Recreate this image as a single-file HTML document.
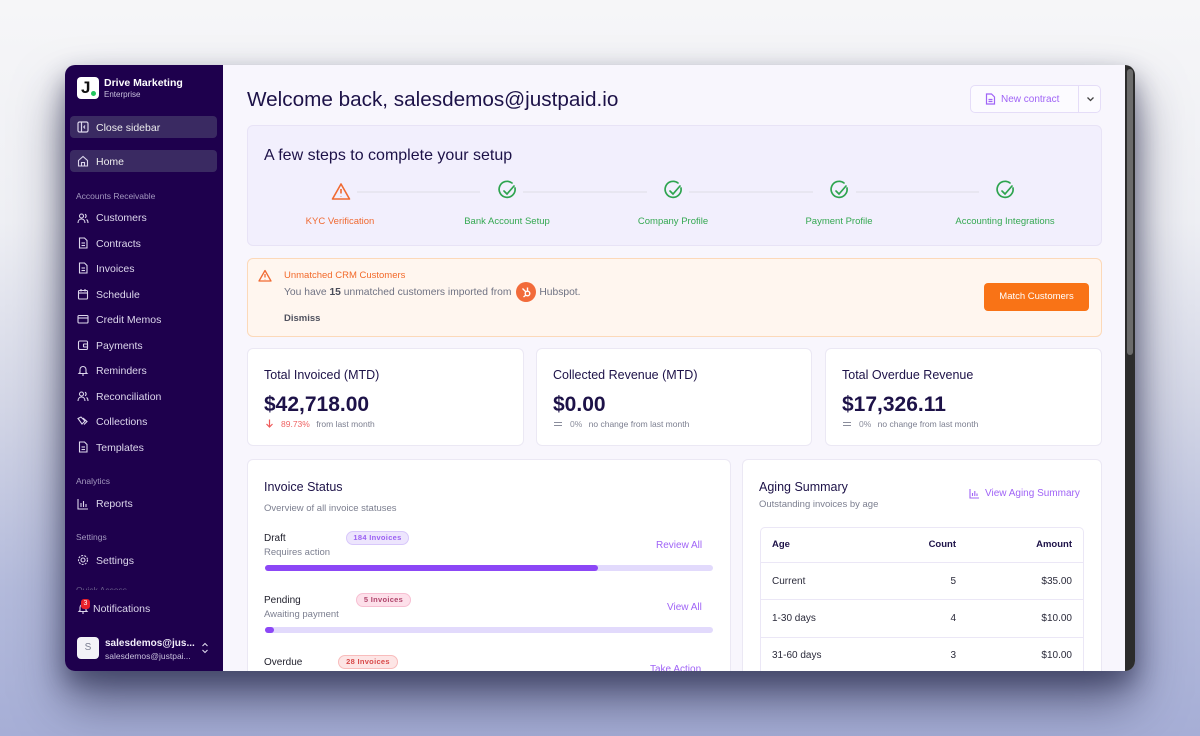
<!DOCTYPE html>
<html><head><meta charset="utf-8">
<style>
*{box-sizing:border-box;margin:0;padding:0}
html,body{width:1200px;height:736px;overflow:hidden}
body{font-family:"Liberation Sans",Arial,sans-serif;position:relative;
background:linear-gradient(180deg,#f6f6f8 0%,#eeeff4 30%,#d3d6e6 55%,#b3badb 80%,#a6aed6 100%);}
.abs{position:absolute}
.win{position:absolute;left:65px;top:65px;width:1070px;height:606px;border-radius:10px;overflow:hidden;background:#f8f6fd;
box-shadow:0 30px 50px rgba(35,37,70,.6),0 12px 24px rgba(35,37,70,.45)}
.side{position:absolute;left:0;top:0;width:158px;height:606px;background:#1e004d}
.side .t{position:absolute;left:31px;font-size:10.5px;color:#ddd7ec;white-space:nowrap}
.side .h{position:absolute;left:11px;font-size:8.5px;color:#a398bf}
.side svg{position:absolute;left:12px}
.main{position:absolute;left:158px;top:0;width:902px;height:606px;background:#f8f6fd}
.card{position:absolute;background:#fff;border:1px solid #ebe8f4;border-radius:6px}
.dk{color:#1d1248}
.gr{color:#7c7f90}
.pur{color:#a064f6}
.badge{position:absolute;height:14px;border-radius:7px;font-size:7.5px;font-weight:bold;line-height:12px;text-align:center;letter-spacing:.3px}
.bar{position:absolute;left:17px;width:448px;height:6px;border-radius:3px;background:#e2dafc}
.bar i{position:absolute;left:0;top:0;height:6px;border-radius:3px;background:#8c47f6}
.sb{position:absolute;left:1060px;top:0;width:10px;height:606px;background:#2c2c2c}
.sb i{position:absolute;left:2px;top:4px;width:6px;height:286px;border-radius:3px;background:#6b6b6b}
td{font-size:10px;color:#2a2a3a}
</style></head><body>
<div class="win">
 <div class="side">
  <div class="abs" style="left:12px;top:12px;width:22px;height:22px;background:#fff;border-radius:4px">
   <span class="abs" style="left:4px;top:1px;font-size:17px;font-weight:bold;color:#111">J</span>
   <span class="abs" style="left:14px;top:14px;width:5px;height:5px;border-radius:50%;background:#22c55e"></span>
  </div>
  <div class="abs" style="left:39px;top:12px;font-size:10.5px;font-weight:bold;color:#fff">Drive Marketing</div>
  <div class="abs" style="left:39px;top:25px;font-size:8px;color:#c9c1dd">Enterprise</div>
  <div class="abs" style="left:5px;top:51px;width:147px;height:22px;border-radius:4px;background:#3a2a62"></div>
  <svg style="top:56px" width="12" height="12" viewBox="0 0 12 12" fill="none" stroke="#ddd7ec" stroke-width="1.2"><rect x="1" y="1" width="10" height="10" rx="1.5"/><line x1="4.5" y1="1" x2="4.5" y2="11"/><path d="M8 4.5L6.8 6 8 7.5"/></svg>
  <div class="t" style="top:57px;color:#eee">Close sidebar</div>
  <div class="abs" style="left:5px;top:85px;width:147px;height:22px;border-radius:4px;background:#3a2a62"></div>
  <svg style="top:90px" width="12" height="12" viewBox="0 0 12 12" fill="none" stroke="#ddd7ec" stroke-width="1.1"><path d="M1.5 5.5L6 1.5l4.5 4V11h-9z"/><path d="M4.5 11V7.5h3V11"/></svg>
  <div class="t" style="top:91px;color:#eee">Home</div>
  <div class="h" style="top:126px">Accounts Receivable</div>
  <svg style="top:147px" width="12" height="12" viewBox="0 0 12 12" fill="none" stroke="#ddd7ec" stroke-width="1.1"><circle cx="4.5" cy="4" r="2"/><path d="M1 11c0-2.5 1.5-4 3.5-4s3.5 1.5 3.5 4"/><path d="M8 2.2a2 2 0 010 3.6M9.5 7.5c1 .6 1.5 2 1.5 3.5"/></svg>
  <div class="t" style="top:147px">Customers</div>
  <svg style="top:172px" width="12" height="12" viewBox="0 0 12 12" fill="none" stroke="#ddd7ec" stroke-width="1.1"><path d="M2.5 1h5l2.5 2.5V11h-7.5z"/><line x1="4.5" y1="6" x2="8" y2="6"/><line x1="4.5" y1="8.5" x2="8" y2="8.5"/></svg>
  <div class="t" style="top:173px">Contracts</div>
  <svg style="top:197px" width="12" height="12" viewBox="0 0 12 12" fill="none" stroke="#ddd7ec" stroke-width="1.1"><path d="M2.5 1h5l2.5 2.5V11h-7.5z"/><line x1="4.5" y1="6" x2="8" y2="6"/><line x1="4.5" y1="8.5" x2="8" y2="8.5"/></svg>
  <div class="t" style="top:198px">Invoices</div>
  <svg style="top:223px" width="12" height="12" viewBox="0 0 12 12" fill="none" stroke="#ddd7ec" stroke-width="1.1"><rect x="1.5" y="2.5" width="9" height="8.5" rx="1"/><line x1="1.5" y1="5" x2="10.5" y2="5"/><line x1="4" y1="1" x2="4" y2="3.5"/><line x1="8" y1="1" x2="8" y2="3.5"/></svg>
  <div class="t" style="top:224px">Schedule</div>
  <svg style="top:248px" width="12" height="12" viewBox="0 0 12 12" fill="none" stroke="#ddd7ec" stroke-width="1.1"><rect x="1" y="2.5" width="10" height="7.5" rx="1"/><line x1="1" y1="5" x2="11" y2="5"/></svg>
  <div class="t" style="top:249px">Credit Memos</div>
  <svg style="top:274px" width="12" height="12" viewBox="0 0 12 12" fill="none" stroke="#ddd7ec" stroke-width="1.1"><rect x="1.5" y="2" width="9" height="8.5" rx="1.2"/><rect x="6.5" y="5" width="4" height="3" rx=".5"/></svg>
  <div class="t" style="top:275px">Payments</div>
  <svg style="top:299px" width="12" height="12" viewBox="0 0 12 12" fill="none" stroke="#ddd7ec" stroke-width="1.1"><path d="M3 8.5V5.5a3 3 0 016 0v3l1 1H2z"/><path d="M5 11h2"/></svg>
  <div class="t" style="top:300px">Reminders</div>
  <svg style="top:325px" width="12" height="12" viewBox="0 0 12 12" fill="none" stroke="#ddd7ec" stroke-width="1.1"><circle cx="4.5" cy="4" r="2"/><path d="M1 11c0-2.5 1.5-4 3.5-4s3.5 1.5 3.5 4"/><path d="M8 2.2a2 2 0 010 3.6M9.5 7.5c1 .6 1.5 2 1.5 3.5"/></svg>
  <div class="t" style="top:326px">Reconciliation</div>
  <svg style="top:350px" width="12" height="12" viewBox="0 0 12 12" fill="none" stroke="#ddd7ec" stroke-width="1.1"><path d="M1 3.5l3-1.5 4 4-3 3z"/><path d="M6 3l4 3.5-3 3"/></svg>
  <div class="t" style="top:351px">Collections</div>
  <svg style="top:376px" width="12" height="12" viewBox="0 0 12 12" fill="none" stroke="#ddd7ec" stroke-width="1.1"><path d="M2.5 1h5l2.5 2.5V11h-7.5z"/><line x1="4.5" y1="6" x2="8" y2="6"/><line x1="4.5" y1="8.5" x2="8" y2="8.5"/></svg>
  <div class="t" style="top:377px">Templates</div>
  <div class="h" style="top:411px">Analytics</div>
  <svg style="top:433px" width="12" height="12" viewBox="0 0 12 12" fill="none" stroke="#ddd7ec" stroke-width="1.1"><path d="M1 1v10h10"/><line x1="4" y1="5" x2="4" y2="9"/><line x1="6.5" y1="3" x2="6.5" y2="9"/><line x1="9" y1="6" x2="9" y2="9"/></svg>
  <div class="t" style="top:433px">Reports</div>
  <div class="h" style="top:467px">Settings</div>
  <svg style="top:489px" width="12" height="12" viewBox="0 0 12 12" fill="none" stroke="#ddd7ec" stroke-width="1.1"><circle cx="6" cy="6" r="2"/><circle cx="6" cy="6" r="4.5" stroke-dasharray="2 1.2"/></svg>
  <div class="t" style="top:490px">Settings</div>
  <div class="h" style="top:520px;height:5px;overflow:hidden;color:#6a5f8a">Quick Access</div>
  <svg style="top:537px" width="12" height="12" viewBox="0 0 12 12" fill="none" stroke="#ddd7ec" stroke-width="1.1"><path d="M3 8.5V5.5a3 3 0 016 0v3l1 1H2z"/><path d="M5 11h2"/></svg>
  <div class="abs" style="left:16px;top:534px;width:9px;height:10px;border-radius:3px;background:#e8202a;color:#fff;font-size:7px;text-align:center;line-height:10px">3</div>
  <div class="t" style="left:28px;top:538px">Notifications</div>
  <div class="abs" style="left:12px;top:572px;width:22px;height:22px;border-radius:4px;background:#f3f2f7;color:#7a7d90;font-size:10px;text-align:center;line-height:22px">S</div>
  <div class="abs" style="left:40px;top:573px;font-size:10px;font-weight:bold;color:#f2eefa">salesdemos@jus...</div>
  <div class="abs" style="left:40px;top:586px;font-size:8.5px;color:#c8c0dc">salesdemos@justpai...</div>
  <svg class="abs" style="left:136px;top:577px" width="8" height="12" viewBox="0 0 8 12" fill="none" stroke="#ddd7ec" stroke-width="1.1"><path d="M1.5 4L4 1.5 6.5 4M1.5 8L4 10.5 6.5 8"/></svg>
 </div>

 <div class="main">
  <div class="abs dk" style="left:24px;top:23px;font-size:20.7px;white-space:nowrap">Welcome back, salesdemos@justpaid.io</div>
  <div class="abs" style="left:747px;top:20px;width:131px;height:28px;border:1px solid #e5ddf8;border-radius:5px;background:#fcfbff"></div>
  <div class="abs" style="left:855px;top:20px;width:1px;height:28px;background:#e5ddf8"></div>
  <svg class="abs" style="left:762px;top:28px" width="11" height="12" viewBox="0 0 11 12" fill="none" stroke="#a064f6" stroke-width="1.2"><path d="M1.5 1h5l3 3v7h-8z"/><line x1="3.5" y1="6.5" x2="7.5" y2="6.5"/><line x1="3.5" y1="8.5" x2="7.5" y2="8.5"/></svg>
  <div class="abs pur" style="left:778px;top:29px;font-size:10px">New contract</div>
  <svg class="abs" style="left:863px;top:31px" width="9" height="6" viewBox="0 0 9 6" fill="none" stroke="#444" stroke-width="1.3"><path d="M1.5 1.5L4.5 4.5 7.5 1.5"/></svg>

  <div class="abs" style="left:24px;top:60px;width:855px;height:121px;background:#f2effd;border:1px solid #e8e3f6;border-radius:6px">
   <div class="abs dk" style="left:16px;top:21px;font-size:16px;white-space:nowrap">A few steps to complete your setup</div>
  </div>
  <svg class="abs" style="left:24px;top:60px" width="855" height="121">
   <g stroke="#e3e1ea" stroke-width="1.2"><line x1="110" y1="67" x2="233" y2="67"/><line x1="276" y1="67" x2="400" y2="67"/><line x1="442" y1="67" x2="566" y2="67"/><line x1="609" y1="67" x2="732" y2="67"/></g>
   <g fill="none" stroke="#f06a32" stroke-width="1.6" stroke-linejoin="round"><path d="M94 59L102.5 74h-17z"/><line x1="94" y1="64" x2="94" y2="68.5"/><line x1="94" y1="71" x2="94" y2="71.4"/></g>
   <g fill="none" stroke="#2ea44f" stroke-width="1.7" stroke-linecap="round">
    <path d="M268 63a8 8 0 11-3-5"/><path d="M257 66l3 3 7-8"/>
    <path d="M434 63a8 8 0 11-3-5"/><path d="M423 66l3 3 7-8"/>
    <path d="M600 63a8 8 0 11-3-5"/><path d="M589 66l3 3 7-8"/>
    <path d="M766 63a8 8 0 11-3-5"/><path d="M755 66l3 3 7-8"/>
   </g>
  </svg>
  <div class="abs" style="left:0;top:151px;width:902px;font-size:9.5px">
   <span class="abs" style="left:117px;width:0;display:flex;justify-content:center;white-space:nowrap;color:#f06a32">KYC Verification</span>
   <span class="abs" style="left:284px;width:0;display:flex;justify-content:center;white-space:nowrap;color:#35a852">Bank Account Setup</span>
   <span class="abs" style="left:450px;width:0;display:flex;justify-content:center;white-space:nowrap;color:#35a852">Company Profile</span>
   <span class="abs" style="left:616px;width:0;display:flex;justify-content:center;white-space:nowrap;color:#35a852">Payment Profile</span>
   <span class="abs" style="left:782px;width:0;display:flex;justify-content:center;white-space:nowrap;color:#35a852">Accounting Integrations</span>
  </div>

  <div class="abs" style="left:24px;top:193px;width:855px;height:79px;background:#fff6ef;border:1px solid #fcd9b9;border-radius:6px"></div>
  <svg class="abs" style="left:35px;top:204px" width="14" height="13" viewBox="0 0 14 13" fill="none" stroke="#f06a32" stroke-width="1.3" stroke-linejoin="round"><path d="M7 1.5L13 12H1z"/><line x1="7" y1="5" x2="7" y2="8.5"/><line x1="7" y1="10" x2="7" y2="10.3"/></svg>
  <div class="abs" style="left:61px;top:205px;font-size:9.5px;color:#f2692a">Unmatched CRM Customers</div>
  <div class="abs" style="left:61px;top:217px;height:20px;display:flex;align-items:center;font-size:10.3px;color:#6f7283;white-space:nowrap">You have&nbsp;<b style="color:#4a4d5a">15</b>&nbsp;unmatched customers imported from&nbsp;
   <span style="display:inline-block;position:relative;width:20px;height:20px;border-radius:50%;background:#f26b3a;margin:0 3px 0 2px">
    <svg class="abs" style="left:0;top:0" width="20" height="20" viewBox="0 0 20 20" fill="none" stroke="#fff" stroke-width="1.4"><circle cx="11.5" cy="11.5" r="2.3"/><path d="M10 10L6.5 6.5M11.5 9.2V5.5M9.8 13.2L7.5 15"/></svg>
   </span>Hubspot.</div>
  <div class="abs" style="left:61px;top:248px;font-size:9.5px;font-weight:bold;color:#50525f">Dismiss</div>
  <div class="abs" style="left:761px;top:218px;width:105px;height:28px;border-radius:4px;background:#f97316;color:#fff;font-size:9.5px;text-align:center;line-height:28px">Match Customers</div>

  <div class="card" style="left:24px;top:283px;width:277px;height:98px"></div>
  <div class="card" style="left:313px;top:283px;width:276px;height:98px"></div>
  <div class="card" style="left:602px;top:283px;width:277px;height:98px"></div>
  <div class="abs dk" style="left:41px;top:303px;font-size:12.5px">Total Invoiced (MTD)</div>
  <div class="abs dk" style="left:41px;top:328px;font-size:21px;font-weight:bold">$42,718.00</div>
  <svg class="abs" style="left:42px;top:354px" width="9" height="9" viewBox="0 0 9 9" fill="none" stroke="#ef5a5a" stroke-width="1.2"><path d="M4.5 0.5v7.5M1.5 5l3 3 3-3"/></svg>
  <div class="abs" style="left:58px;top:354px;font-size:8.5px;color:#ef6464;white-space:nowrap">89.73% <span style="color:#7c7f90;margin-left:4px">from last month</span></div>
  <div class="abs dk" style="left:330px;top:303px;font-size:12.5px">Collected Revenue (MTD)</div>
  <div class="abs dk" style="left:330px;top:328px;font-size:21px;font-weight:bold">$0.00</div>
  <div class="abs" style="left:331px;top:357px;width:8px;height:1.3px;background:#8a8d9c;box-shadow:0 3px 0 #8a8d9c"></div>
  <div class="abs" style="left:347px;top:354px;font-size:8.5px;color:#8a8d9c;white-space:nowrap">0% <span style="margin-left:4px;color:#7c7f90">no change from last month</span></div>
  <div class="abs dk" style="left:619px;top:303px;font-size:12.5px">Total Overdue Revenue</div>
  <div class="abs dk" style="left:619px;top:328px;font-size:21px;font-weight:bold">$17,326.11</div>
  <div class="abs" style="left:620px;top:357px;width:8px;height:1.3px;background:#8a8d9c;box-shadow:0 3px 0 #8a8d9c"></div>
  <div class="abs" style="left:636px;top:354px;font-size:8.5px;color:#8a8d9c;white-space:nowrap">0% <span style="margin-left:4px;color:#7c7f90">no change from last month</span></div>

  <div class="card" style="left:24px;top:394px;width:484px;height:240px">
   <div class="abs dk" style="left:16px;top:20px;font-size:12.5px">Invoice Status</div>
   <div class="abs gr" style="left:16px;top:43px;font-size:9.5px">Overview of all invoice statuses</div>
   <div class="abs" style="left:16px;top:73px;font-size:10px;color:#1e1e2a">Draft</div>
   <div class="abs gr" style="left:16px;top:87px;font-size:9.5px">Requires action</div>
   <div class="badge" style="left:98px;top:71px;width:63px;background:#ede5fd;border:1px solid #d8c8fb;color:#9b60f2">184 Invoices</div>
   <div class="abs pur" style="left:408px;top:80px;font-size:10px">Review All</div>
   <div class="bar" style="top:105px"><i style="width:333px"></i></div>
   <div class="abs" style="left:16px;top:135px;font-size:10px;color:#1e1e2a">Pending</div>
   <div class="abs gr" style="left:16px;top:149px;font-size:9.5px">Awaiting payment</div>
   <div class="badge" style="left:108px;top:133px;width:55px;background:#fde0ea;border:1px solid #f7bfd2;color:#b0456c">5 Invoices</div>
   <div class="abs pur" style="left:419px;top:142px;font-size:10px">View All</div>
   <div class="bar" style="top:167px"><i style="width:9px"></i></div>
   <div class="abs" style="left:16px;top:197px;font-size:10px;color:#1e1e2a">Overdue</div>
   <div class="badge" style="left:90px;top:195px;width:60px;background:#fde5e5;border:1px solid #f8bcbc;color:#d84a4a">28 Invoices</div>
   <div class="abs pur" style="left:402px;top:204px;font-size:10px">Take Action</div>
  </div>

  <div class="card" style="left:519px;top:394px;width:360px;height:240px">
   <div class="abs dk" style="left:16px;top:20px;font-size:12.5px">Aging Summary</div>
   <div class="abs gr" style="left:16px;top:39px;font-size:9.5px">Outstanding invoices by age</div>
   <svg class="abs" style="left:226px;top:28px" width="11" height="11" viewBox="0 0 11 11" fill="none" stroke="#a064f6" stroke-width="1.1"><path d="M1 1v9h9"/><line x1="3.5" y1="5" x2="3.5" y2="8"/><line x1="5.8" y1="3" x2="5.8" y2="8"/><line x1="8" y1="5.5" x2="8" y2="8"/></svg>
   <div class="abs pur" style="left:242px;top:28px;font-size:10px;white-space:nowrap">View Aging Summary</div>
   <div class="abs" style="left:17px;top:67px;width:324px;height:190px;border:1px solid #ebe7f6;border-radius:5px;overflow:hidden">
    <table style="border-collapse:collapse;width:100%">
     <tr style="height:34px;border-bottom:1px solid #ebe7f6"><td style="padding-left:11px;font-weight:bold;color:#1d1248;font-size:9.5px">Age</td><td style="text-align:right;font-weight:bold;color:#1d1248;font-size:9.5px;width:90px">Count</td><td style="text-align:right;padding-right:11px;font-weight:bold;color:#1d1248;font-size:9.5px;width:127px">Amount</td></tr>
     <tr style="height:37.5px;border-bottom:1px solid #ebe7f6"><td style="padding-left:11px;padding-top:2px">Current</td><td style="text-align:right;padding-top:2px">5</td><td style="text-align:right;padding-right:11px;padding-top:2px">$35.00</td></tr>
     <tr style="height:37.5px;border-bottom:1px solid #ebe7f6"><td style="padding-left:11px">1-30 days</td><td style="text-align:right">4</td><td style="text-align:right;padding-right:11px">$10.00</td></tr>
     <tr style="height:37.5px;border-bottom:1px solid #ebe7f6"><td style="padding-left:11px">31-60 days</td><td style="text-align:right">3</td><td style="text-align:right;padding-right:11px">$10.00</td></tr>
     <tr style="height:37.5px"><td style="padding-left:11px">61-90 days</td><td style="text-align:right">2</td><td style="text-align:right;padding-right:11px">$10.00</td></tr>
    </table>
   </div>
  </div>
 </div>
 <div class="sb"><i></i></div>
</div>
</body></html>
